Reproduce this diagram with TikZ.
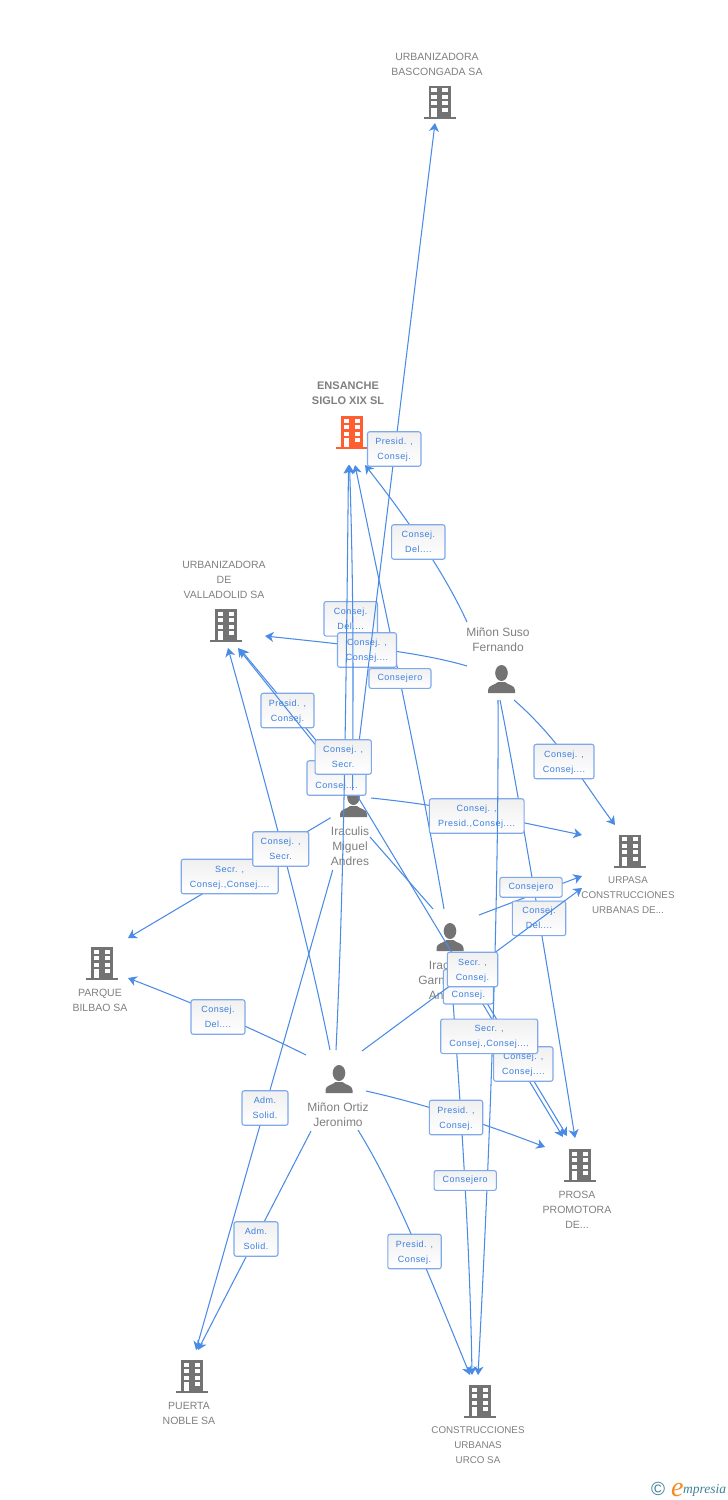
\documentclass[tikz,border=0pt]{standalone}
\usepackage{fontspec}
\setmainfont{Liberation Sans}
\newfontfamily\boxfont[LetterSpace=5.5]{Liberation Sans}
\newfontfamily\logofont{Liberation Serif}
\usetikzlibrary{arrows.meta}
\definecolor{linkblue}{HTML}{4A8BE6}
\definecolor{boxedge}{HTML}{7FA9EA}
\definecolor{boxtext}{HTML}{3C7FE0}
\definecolor{icongray}{HTML}{737373}
\definecolor{txtgray}{HTML}{808080}
\definecolor{iconorange}{HTML}{FF5E30}
\definecolor{logoteal}{HTML}{3F8197}
\definecolor{logoorange}{HTML}{F58A1F}
\tikzset{
 link/.style={draw=linkblue,line width=1.05pt},
 tolink/.style={link,-{Stealth[length=8.5pt,width=10pt,inset=2.5pt]}},
 tagbox/.style={draw=boxedge,line width=1.1pt,rounded corners=2.2pt,top color=black!6,bottom color=white,
   inner sep=0pt,minimum height=34.5pt,text=boxtext,align=center,font=\boxfont\fontsize{9}{15}\selectfont},
 orgtext/.style={text=txtgray,align=center,inner sep=0pt,font=\fontsize{10.5}{15}\selectfont},
 widetext/.style={text=txtgray,align=center,inner sep=0pt,font=\fontsize{9.8}{15}\selectfont},
 headtext/.style={text=txtgray,align=center,inner sep=0pt,font=\bfseries\fontsize{11}{15}\selectfont},
 peopletext/.style={text=txtgray,align=center,inner sep=0pt,font=\fontsize{12}{15}\selectfont},
}
% name, cx, bottom y, colour
\newcommand{\bldg}[4]{%
 \begin{scope}[shift={(#2,#3)}]
  \node[inner sep=0pt,minimum width=32pt,minimum height=34pt] (#1) at (0,-17) {};
  \fill[#4] (-11,-33) rectangle (11,-2);
  \fill[#4] (-16,-2) rectangle (16,0);
  \foreach \yy in {-30.5,-24,-17.5}{
   \fill[white] (-8.2,\yy) rectangle (-2.7,\yy+4);
   \fill[white] (2.7,\yy) rectangle (8.2,\yy+4);}
  \fill[white] (-8.2,-11) rectangle (-2.7,-2);
  \fill[white] (2.7,-11) rectangle (8.2,-7);
 \end{scope}}
% name, cx, bottom y
\newcommand{\persona}[3]{%
 \begin{scope}[shift={(#2,#3)}]
  \node[inner sep=0pt,minimum width=27pt,minimum height=28pt] (#1) at (0,-14) {};
  \fill[icongray] (-13.5,0) -- (-13.5,-3) .. controls (-13.5,-8) and (-6,-8) .. (-3.5,-11) -- (3.5,-11) .. controls (6,-8) and (13.5,-8) .. (13.5,-3) -- (13.5,0) -- cycle;
  \fill[icongray] (0,-20) circle [x radius=6.3pt,y radius=8pt];
 \end{scope}}
\newcommand{\tag}[5]{\node[tagbox,minimum width=#4pt] (#1) at (#2,#3) {\raisebox{-1.5pt}{\begin{tabular}{@{}c@{}}#5\end{tabular}}};}
\newcommand{\tagS}[5]{\node[tagbox,minimum width=#4pt,minimum height=19.8pt] (#1) at (#2,#3) {\raisebox{-1.2pt}{#5}};}
\begin{document}
\begin{tikzpicture}[x=1pt,y=-1pt]
\useasboundingbox (0,0) rectangle (728,1500);
\fill[white] (0,0) rectangle (728,1500);

% --- companies
\bldg{bascongada}{439.5}{118.5}{icongray}
\bldg{ensanche}{352}{449}{iconorange}
\bldg{valladolid}{226}{642}{icongray}
\bldg{urpasa}{630}{867.5}{icongray}
\bldg{parque}{102}{980}{icongray}
\bldg{prosa}{580}{1182}{icongray}
\bldg{puerta}{192}{1393}{icongray}
\bldg{urco}{480}{1418}{icongray}
\node[orgtext] (tbascongada) at (437,64) {URBANIZADORA\\BASCONGADA SA};
\node[headtext] (tensanche) at (348,393.5) {ENSANCHE\\SIGLO XIX SL};
\node[orgtext] (tvalladolid) at (224,579.5) {URBANIZADORA\\DE\\VALLADOLID SA};
\node[widetext] (turpasa) at (628,895.5) {URPASA\\CONSTRUCCIONES\\URBANAS DE...};
\node[orgtext] (tparque) at (100,1000) {PARQUE\\BILBAO SA};
\node[orgtext] (tprosa) at (577,1209.5) {PROSA\\PROMOTORA\\DE...};
\node[orgtext] (tpuerta) at (189,1413) {PUERTA\\NOBLE SA};
\node[widetext] (turco) at (478,1445.5) {CONSTRUCCIONES\\URBANAS\\URCO SA};

% --- people
\persona{suso}{501.5}{693}
\persona{miguel}{353.5}{817}
\persona{ana}{450}{951}
\persona{ortiz}{339}{1093}
\node[peopletext] (tsuso) at (498,639.5) {Miñon Suso\\Fernando};
\node[peopletext] (tmiguel) at (350,846) {Iraculis\\Miguel\\Andres};
\node[peopletext] (tana) at (448,980) {Iraculis\\Garmendia\\Andres};
\node[peopletext] (tortiz) at (338,1114.5) {Miñon Ortiz\\Jeronimo};

% --- connector ends
\coordinate (mBasc) at (355,775);   \coordinate (aBasc) at (435,123);
\coordinate (sEns) at (467,622);    \coordinate (aEnsC) at (365,465);
\coordinate (sVal) at (467,666);    \coordinate (aValR) at (265,636);
\coordinate (sUrp) at (514,700);    \coordinate (aUrpT) at (615,825);
\coordinate (sPro) at (500,700);    \coordinate (aProR) at (575,1138);
\coordinate (sUrc) at (498,700);    \coordinate (aUrcR) at (478,1375);
\coordinate (mUrp) at (371,798);    \coordinate (aUrpU) at (582,835);
\coordinate (mEns) at (352.6,790);  \coordinate (aEnsA) at (349.5,465);
\coordinate (oEns) at (336,1050);   \coordinate (aEnsB) at (348.5,465);
\coordinate (nEns) at (444,909);    \coordinate (aEnsD) at (355,465);
\coordinate (mValA) at (330,763);   \coordinate (aValA) at (238,648);
\coordinate (mValB) at (330,757);   \coordinate (aValB) at (240,649);
\coordinate (oVal) at (330,1050);   \coordinate (aValC) at (228,648);
\coordinate (mPar) at (330.7,817.7);\coordinate (aParT) at (128,938);
\coordinate (oPar) at (306,1055);   \coordinate (aParB) at (128,978);
\coordinate (mPue) at (332.7,870);  \coordinate (aPueA) at (196,1350);
\coordinate (oPue) at (311,1131);   \coordinate (aPueB) at (198,1350);
\coordinate (oUrc) at (358,1130);   \coordinate (aUrcL) at (470,1375);
\coordinate (nUrc) at (451,975);    \coordinate (aUrcM) at (472,1375);
\coordinate (oPro) at (366,1091);   \coordinate (aProL) at (545,1147);
\coordinate (oUrp) at (362,1051);   \coordinate (aUrpB) at (582,888);
\coordinate (nUrp) at (479,915);    \coordinate (aUrpM) at (582,876);
\coordinate (mPro) at (358,797);    \coordinate (aProA) at (563,1137);
\coordinate (nPro) at (470,975);    \coordinate (aProB) at (567,1136);
\coordinate (mAna) at (370,837);    \coordinate (aAna) at (433,909);

% --- connectors under the boxes
\draw[tolink] (sEns) .. controls (450,585) and (420,535) .. (aEnsC);
\draw[tolink] (sVal) .. controls (420,652) and (350,645) .. (aValR);
\draw[tolink] (sUrp) .. controls (560,740) and (585,785) .. (aUrpT);
\draw[tolink] (sPro) .. controls (515,775) and (545,950) .. (aProR);
\draw[tolink] (mUrp) .. controls (450,806) and (510,820) .. (aUrpU);
\draw[tolink] (nEns) .. controls (420,770) and (385,610) .. (aEnsD);
\draw[tolink] (mValB) -- (aValB);
\draw[tolink] (oVal) .. controls (310,950) and (280,835) .. (aValC);
\draw[tolink] (mPar) -- (aParT);
\draw[tolink] (oPar) .. controls (250,1027) and (190,1002) .. (aParB);
\draw[tolink] (mPue) -- (aPueA);
\draw[tolink] (oPue) -- (aPueB);
\draw[tolink] (oUrc) .. controls (395,1190) and (425,1265) .. (aUrcL);
\draw[tolink] (nUrc) .. controls (462,1120) and (470,1250) .. (aUrcM);
\draw[tolink] (oPro) .. controls (420,1103) and (480,1122) .. (aProL);
\draw[tolink] (nUrp) -- (aUrpM);
\draw[tolink] (mPro) -- (aProA);
\draw[tolink] (nPro) -- (aProB);
\draw[link] (mAna) -- (aAna);

% --- boxes under the later connectors
\tag{bDelA}{350.7}{618.8}{53.5}{Consej.\\Del....}
\tag{bConA}{367}{650}{59}{Consej. ,\\Consej....}
\tagS{bConsA}{400}{678.5}{62}{Consejero}
\tag{bPreA}{287.5}{710.5}{53}{Presid. ,\\Consej.}
\tag{bHid}{336.5}{778}{59}{\phantom{C}\\Consej....}
\tag{bPreB}{476.7}{816}{94.7}{Consej. ,\\Presid.,Consej....}
\tag{bConB}{564}{761.5}{60}{Consej. ,\\Consej....}
\tag{bDelB}{539}{918.3}{53.4}{Consej.\\Del....}
\tag{bSecA}{229.7}{876.5}{97}{Secr. ,\\Consej.,Consej....}
\tag{bConC}{468.3}{986.7}{50}{\phantom{C}\\Consej.}

% --- connectors that run over those boxes
\draw[tolink] (oUrp) -- (aUrpB);
\draw[tolink] (mValA) -- (aValA);
\draw[tolink] (mBasc) -- (aBasc);
\draw[tolink] (mEns) .. controls (353,700) and (354,600) .. (aEnsA);
\draw[tolink] (oEns) .. controls (344,880) and (346,700) .. (aEnsB);
\draw[tolink] (sUrc) .. controls (499,900) and (490,1150) .. (aUrcR);

% --- boxes on top
\tag{bPreC}{394.2}{449}{53.5}{Presid. ,\\Consej.}
\tag{bDelC}{418.3}{542}{53.4}{Consej.\\Del....}
\tag{bSecB}{343.2}{757}{56.3}{Consej. ,\\Secr.}
\tag{bSecC}{280.7}{849}{56}{Consej. ,\\Secr.}
\tagS{bConsB}{531}{887.3}{62.3}{Consejero}
\tag{bSecD}{472.5}{969.5}{50.4}{Secr. ,\\Consej.}
\tag{bConD}{523.3}{1064}{59.3}{Consej. ,\\Consej....}
\tag{bSecE}{489.2}{1036.3}{97}{Secr. ,\\Consej.,Consej....}
\tag{bPreD}{456}{1117.5}{53.4}{Presid. ,\\Consej.}
\tagS{bConsC}{465.2}{1180.5}{62.3}{Consejero}
\tag{bDelD}{218}{1017}{54}{Consej.\\Del....}
\tag{bAdmA}{265}{1108}{46}{Adm.\\Solid.}
\tag{bAdmB}{256}{1239}{44}{Adm.\\Solid.}
\tag{bPreE}{414.5}{1251.5}{53.4}{Presid. ,\\Consej.}

% --- mark
\node[text=logoteal,inner sep=0pt,font=\fontsize{19}{19}\selectfont] (copy) at (658,1488.5) {©};
\node[text=logoorange,inner sep=0pt,anchor=base west,font=\logofont\itshape\fontsize{28}{28}\selectfont] (logoe) at (671,1496) {e};
\node[text=logoteal,inner sep=0pt,anchor=base west,font=\logofont\itshape\fontsize{13.5}{13.5}\selectfont] (logot) at (683,1493) {mpresia};
\end{tikzpicture}
\end{document}
